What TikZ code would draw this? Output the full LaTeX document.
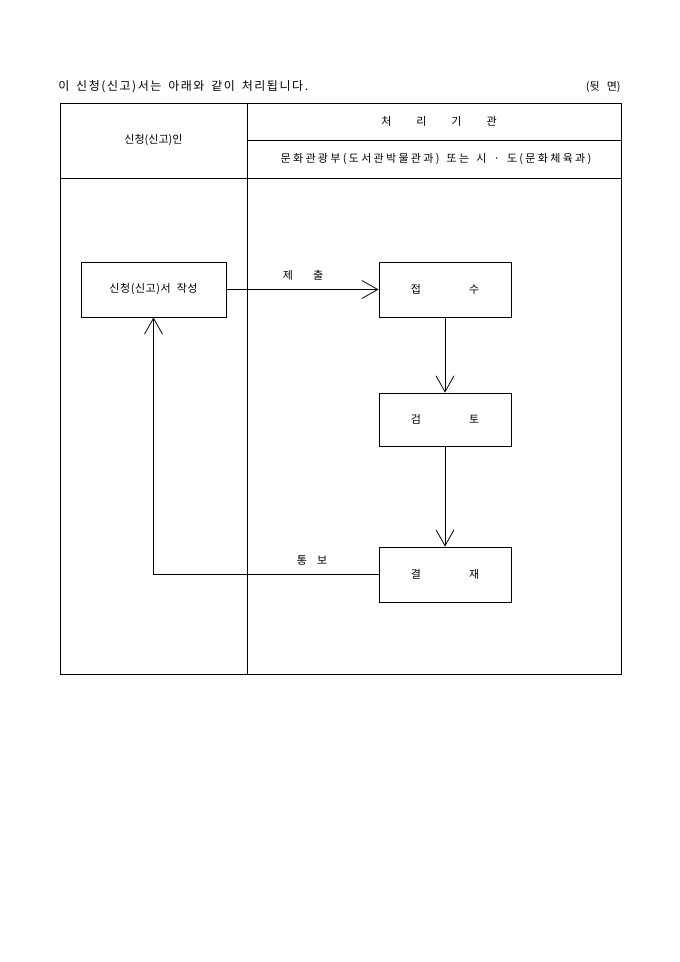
\documentclass[tikz,border=0pt]{standalone}
\usepackage{fontspec}
\setmainfont{Noto Sans CJK KR}
\newfontfamily\titlefont[WordSpace=1.6,LetterSpace=13]{Noto Sans CJK KR}
\newfontfamily\ministryfont[WordSpace=1.5,LetterSpace=21]{Noto Sans CJK KR}
\newfontfamily\boxfont[LetterSpace=5]{Noto Sans CJK KR}
\usetikzlibrary{arrows.meta}
\begin{document}
\begin{tikzpicture}[x=1pt,y=-1pt,
  line width=0.8pt,
  every node/.style={font=\fontsize{11pt}{13pt}\selectfont, inner sep=0pt},
  box/.style={draw, minimum width=145pt, minimum height=55pt},
  vtip/.tip={Straight Barb[length=16pt,width=18pt,line width=0.8pt]},
  arr/.style={-vtip}]
\useasboundingbox (0,0) rectangle (680,962);
% header line
\node[anchor=west, font=\titlefont\fontsize{12pt}{13pt}\selectfont] (title) at (58,87) {이 신청(신고)서는 아래와 같이 처리됩니다.};
\node[anchor=east] (back) at (621,87) {(뒷\hspace{7pt}면)};
% table
\draw (60,103) rectangle (621,674);
\draw (247,103) -- (247,674);
\draw (247,140) -- (621,140);
\draw (60,178) -- (621,178);
\node (applicant) at (153.5,140) {신청(신고)인};
\node (agency) at (439,121.5) {처\hspace{25pt}리\hspace{25pt}기\hspace{25pt}관};
\node[font=\ministryfont\fontsize{11pt}{13pt}\selectfont] (ministry) at (436,159) {문화관광부(도서관박물관과) 또는 시 · 도(문화체육과)};
% boxes
\node[box, font=\boxfont\fontsize{11pt}{13pt}\selectfont] (write) at (153.5,289.5) {신청(신고)서\hspace{6pt}작성};
\node[box, minimum width=132pt] (receive) at (445,289.5) {접\hspace{48pt}수};
\node[box, minimum width=132pt, minimum height=53pt] (review) at (445,419.5) {검\hspace{48pt}토};
\node[box, minimum width=132pt] (approve) at (445,574.5) {결\hspace{48pt}재};
% connectors
\draw[arr] (write.east) -- (receive.west);
\draw[arr] (receive.south) -- (review.north);
\draw[arr] (review.south) -- (approve.north);
\draw[arr] (approve.west) -| (write.south);
% labels
\node (submit) at (303,275) {제\hspace{20pt}출};
\node (notify) at (312,561) {통\hspace{10pt}보};
\end{tikzpicture}
\end{document}
